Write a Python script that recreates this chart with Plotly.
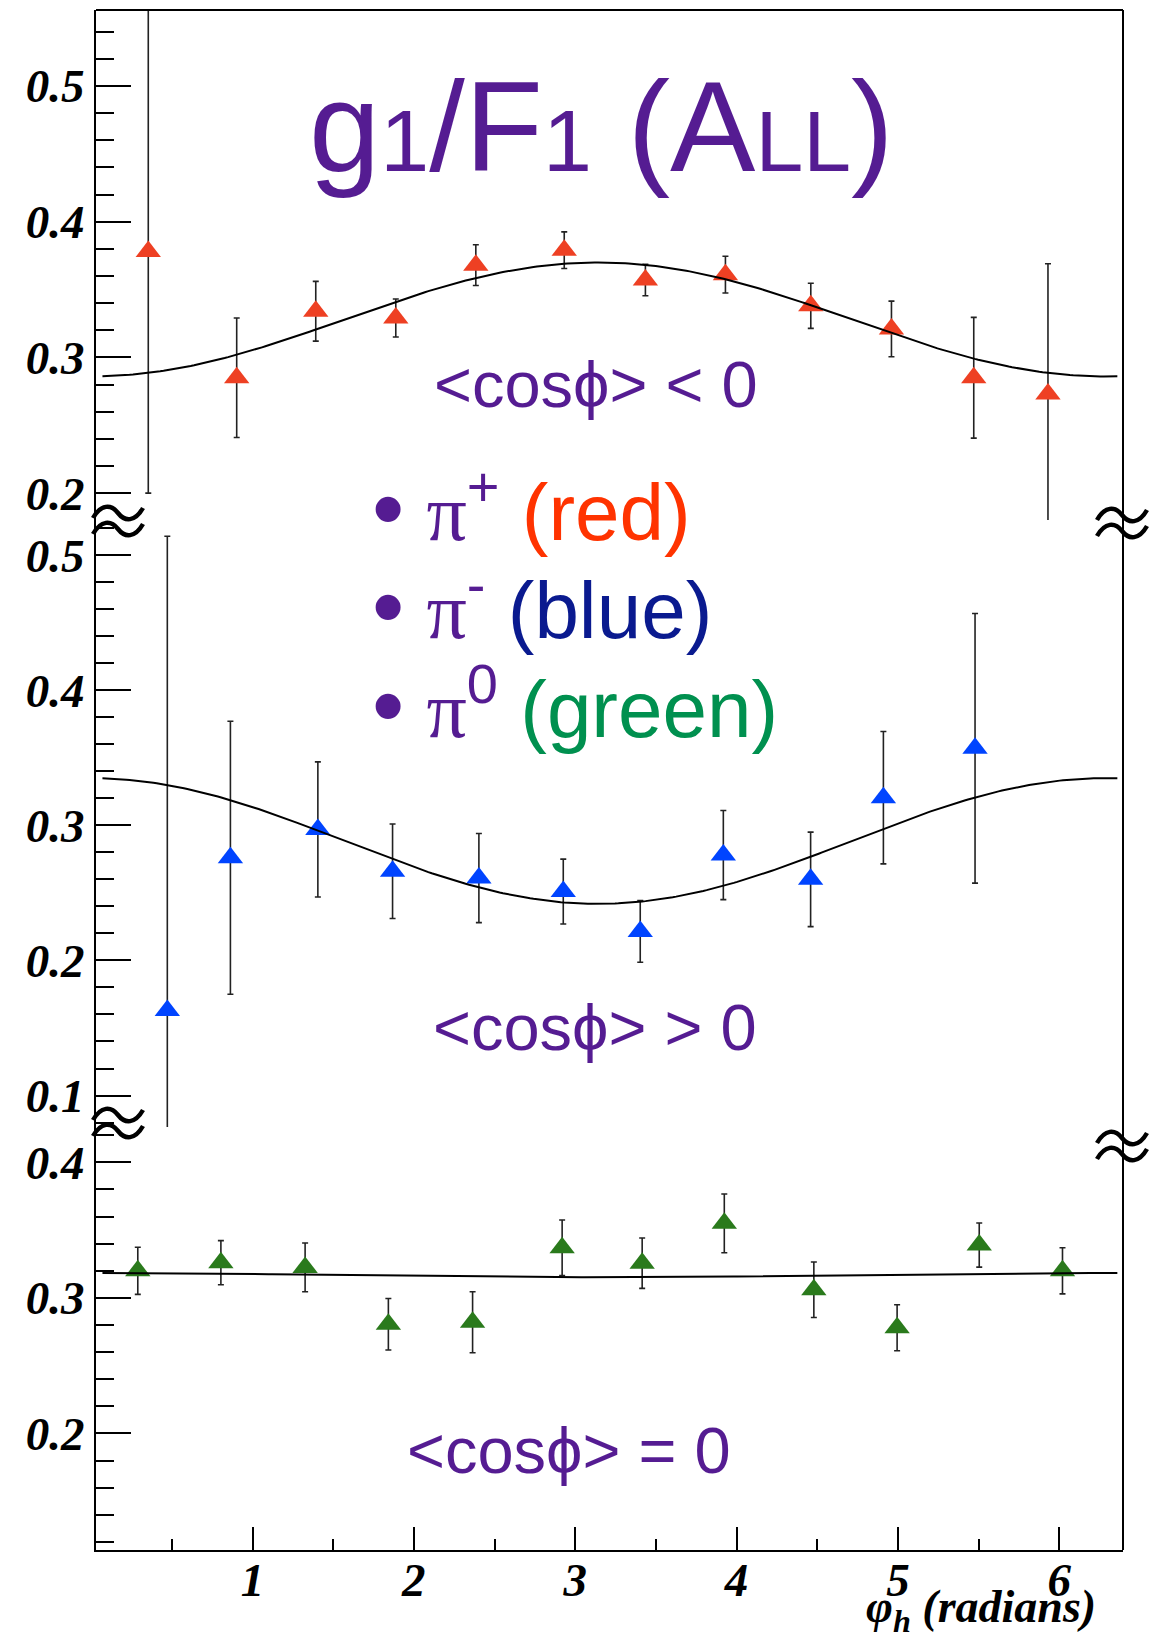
import numpy as np
import plotly.graph_objects as go

# ---------------- data ----------------
red_phi = [0.354, 0.902, 1.392, 1.888, 2.384, 2.932, 3.435, 3.931, 4.460, 4.960, 5.470, 5.930]
red_all = [0.378, 0.285, 0.334, 0.329, 0.368, 0.379, 0.357, 0.361, 0.338, 0.321, 0.285, 0.273]
red_err = [0.178, 0.044, 0.022, 0.014, 0.015, 0.0135, 0.0116, 0.0135, 0.0166, 0.0205, 0.0445, 0.096]

blue_phi = [0.472, 0.863, 1.405, 1.868, 2.403, 2.926, 3.403, 3.918, 4.459, 4.910, 5.478]
blue_all = [0.163, 0.276, 0.297, 0.266, 0.261, 0.251, 0.2215, 0.278, 0.260, 0.3205, 0.357]
blue_err = [0.351, 0.101, 0.050, 0.035, 0.033, 0.024, 0.0228, 0.033, 0.035, 0.049, 0.0998]

green_phi = [0.289, 0.804, 1.326, 1.842, 2.364, 2.919, 3.415, 3.924, 4.479, 4.995, 5.504, 6.020]
green_all = [0.320, 0.326, 0.3225, 0.2806, 0.282, 0.337, 0.3256, 0.355, 0.306, 0.278, 0.339, 0.320]
green_err = [0.0174, 0.0163, 0.018, 0.019, 0.0225, 0.0205, 0.0186, 0.0217, 0.0205, 0.017, 0.0163, 0.017]

# fit parameters  A0 + A1*cos(phi)
fit_red = [0.328, -0.042]
fit_blue = [0.2884, 0.0465]
fit_green = [0.3168, 0.0016]
fit_phi_range = [0.07, 6.36]

x_tickvals = [1, 2, 3, 4, 5, 6]
x_ticktext = ["1", "2", "3", "4", "5", "6"]
top_tickvals = [0.2, 0.3, 0.4, 0.5]
top_ticktext = ["0.2", "0.3", "0.4", "0.5"]
mid_tickvals = [0.1, 0.2, 0.3, 0.4, 0.5]
mid_ticktext = ["0.1", "0.2", "0.3", "0.4", "0.5"]
bot_tickvals = [0.2, 0.3, 0.4]
bot_ticktext = ["0.2", "0.3", "0.4"]

# ---------------- styling ----------------
W, H = 1151, 1649
L, R, T, B = 96, 28, 10, 99
PW, PH = W - L - R, H - T - B

PURPLE = "#551C92"
RED_M = "#EE4023"
BLUE_M = "#0044FF"
GREEN_M = "#2A7A1C"


def px(x):
    return (x - L) / PW


def py(y):
    return (H - B - y) / PH


fig = go.Figure()
phi_c = np.linspace(fit_phi_range[0], fit_phi_range[1], 300)


def add_panel(phi, val, err, color, yref, fit):
    fig.add_trace(go.Scatter(
        x=phi, y=val, mode="markers", xaxis="x", yaxis=yref,
        marker=dict(symbol="triangle-up", size=22, color=color, line=dict(width=0)),
        error_y=dict(type="data", array=err, color="#222222", thickness=1.6, width=3),
        showlegend=False, hoverinfo="x+y"))
    fig.add_trace(go.Scatter(
        x=phi_c, y=fit[0] + fit[1] * np.cos(phi_c), mode="lines", xaxis="x", yaxis=yref,
        line=dict(color="black", width=2), showlegend=False, hoverinfo="skip"))


add_panel(red_phi, red_all, red_err, RED_M, "y", fit_red)
add_panel(blue_phi, blue_all, blue_err, BLUE_M, "y2", fit_blue)
add_panel(green_phi, green_all, green_err, GREEN_M, "y3", fit_green)

tick_font = dict(family="Liberation Serif", size=47, color="black", weight="bold", style="italic")

common_y = dict(
    anchor="x", showline=True, linecolor="black", linewidth=2, mirror=False,
    ticks="inside", ticklen=35, tickwidth=2, tickcolor="black",
    showgrid=False, zeroline=False, tickmode="array", tickfont=tick_font,
    minor=dict(tickmode="linear", tick0=0, dtick=0.02, ticks="inside", ticklen=18,
               tickwidth=2, tickcolor="black", showgrid=False),
)

b_split = 1127
t_split = 520
fig.update_layout(
    width=W, height=H,
    margin=dict(l=L, r=R, t=T, b=B, pad=0),
    paper_bgcolor="white", plot_bgcolor="rgba(0,0,0,0)",
    xaxis=dict(range=[0.03, 6.395], anchor="y3", showline=True, linecolor="black", linewidth=2,
               ticks="inside", ticklen=23, tickwidth=2, tickcolor="black",
               tickmode="array", tickvals=x_tickvals, ticktext=x_ticktext, tickfont=tick_font,
               ticklabelstandoff=-12,
               minor=dict(tickmode="linear", tick0=0, dtick=0.5, ticks="inside", ticklen=11,
                          tickwidth=2, tickcolor="black", showgrid=False),
               showgrid=False, zeroline=False),
    yaxis=dict(domain=[py(t_split), 1], range=[0.1802, 0.556],
               tickvals=top_tickvals, ticktext=top_ticktext, **common_y),
    yaxis2=dict(domain=[py(b_split), py(t_split)], range=[0.0767, 0.526],
                tickvals=mid_tickvals, ticktext=mid_ticktext, **common_y),
    yaxis3=dict(domain=[0, py(b_split)], range=[0.114, 0.4261],
                tickvals=bot_tickvals, ticktext=bot_ticktext, **common_y),
)

shapes = [
    dict(type="line", xref="paper", yref="paper", x0=0, x1=1, y0=1, y1=1,
         line=dict(color="black", width=2)),
    dict(type="line", xref="paper", yref="paper", x0=1, x1=1, y0=0, y1=1,
         line=dict(color="black", width=2)),
]
tilde = "M -25,{a} C -17,{b} -7,{b} 0,{c} C 7,{d} 17,{d} 25,{e}"


def break_mark(xc, yc):
    out = []
    for dy in (8, -8):
        path = tilde.format(a=dy - 5, b=dy + 9, c=dy, d=dy - 9, e=dy + 5)
        out.append(dict(type="path", xref="paper", yref="paper", xsizemode="pixel", ysizemode="pixel",
                        xanchor=px(xc), yanchor=py(yc), path=path,
                        line=dict(color="black", width=4.5)))
    return out


shapes += break_mark(118, 521) + break_mark(118, 1123) + break_mark(1122, 523) + break_mark(1122, 1146)
fig.update_layout(shapes=shapes)

ann = []
title_txt = ('g<span style="font-size:88px">1</span>/F<span style="font-size:88px">1</span> '
             '(A<span style="font-size:86px">LL</span>)')
ann.append(dict(text=title_txt, xref="paper", yref="paper", x=px(601), y=py(126), xanchor="center",
                yanchor="middle", showarrow=False,
                font=dict(family="Liberation Sans", size=128, color=PURPLE)))

cos_font = dict(family="Liberation Sans", size=65, color=PURPLE)
for txt, xc, yc in [("&lt;cosϕ&gt; &lt; 0", 596, 384), ("&lt;cosϕ&gt; &gt; 0", 595, 1027),
                    ("&lt;cosϕ&gt; = 0", 569, 1450)]:
    ann.append(dict(text=txt, xref="paper", yref="paper", x=px(xc), y=py(yc), xanchor="center",
                    yanchor="middle", showarrow=False, font=cos_font))

leg_rows = [("+", "(red)", "#FF3300", 507), ("-", "(blue)", "#0A1A8F", 605), ("0", "(green)", "#00904F", 704)]
for sup, word, col, yc in leg_rows:
    txt = ('<span style="font-size:92px">•</span> <span style="font-family:Liberation Serif">π</span>'
           '<sup>%s</sup> <span style="color:%s">%s</span>' % (sup, col, word))
    ann.append(dict(text=txt, xref="paper", yref="paper", x=px(370), y=py(yc), xanchor="left",
                    yanchor="middle", showarrow=False,
                    font=dict(family="Liberation Sans", size=80, color=PURPLE)))

ann.append(dict(text="<b><i>φ<sub>h</sub> (radians)</i></b>", xref="paper", yref="paper",
                x=px(1098), y=py(1610), xanchor="right", yanchor="middle", showarrow=False,
                font=dict(family="Liberation Serif", size=46, color="black")))
fig.update_layout(annotations=ann)

fig.write_html("out.html")
